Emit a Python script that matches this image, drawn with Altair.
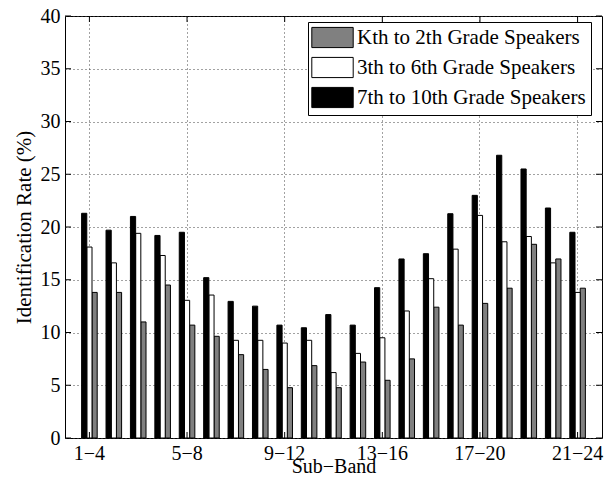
import altair as alt
import pandas as pd

groups = list(range(1, 22))
series_names = ["Kth to 2th Grade Speakers", "3th to 6th Grade Speakers", "7th to 10th Grade Speakers"]
series_colors = ["#808080", "#ffffff", "#000000"]
bar_order = ["7th to 10th Grade Speakers", "3th to 6th Grade Speakers", "Kth to 2th Grade Speakers"]

k2 = [13.8, 13.8, 11.0, 14.5, 10.7, 9.64, 7.9, 6.5, 4.77, 6.86, 4.77, 7.2, 5.47, 7.5, 12.4, 10.7, 12.76, 14.2, 18.36, 16.97, 14.2]
g36 = [18.1, 16.6, 19.4, 17.3, 13.05, 13.55, 9.26, 9.26, 9.0, 9.26, 6.2, 8.02, 9.5, 12.04, 15.1, 17.9, 21.1, 18.6, 19.1, 16.6, 13.8]
g710 = [21.3, 19.7, 21.0, 19.2, 19.5, 15.2, 12.95, 12.5, 10.7, 10.45, 11.7, 10.7, 14.25, 16.97, 17.47, 21.26, 23.0, 26.8, 25.5, 21.8, 19.5]

tick_groups = [1, 5, 9, 13, 17, 21]
tick_labels = ["1−4", "5−8", "9−12", "13−16", "17−20", "21−24"]
y_ticks = [0, 5, 10, 15, 20, 25, 30, 35, 40]

rows = []
for name, vals in zip(series_names, [k2, g36, g710]):
    for g, v in zip(groups, vals):
        rows.append({"g": g, "series": name, "v": v})
df = pd.DataFrame(rows)

W, H = 537, 422
FONT = "Liberation Serif"

label_expr = "{" + ",".join(f"'{g}':'{l}'" for g, l in zip(tick_groups, tick_labels)) + "}[datum.value]"

x_axis = alt.Axis(values=tick_groups, labelExpr=label_expr, title="Sub−Band", grid=True,
                  ticks=False, labelAngle=0, labelPadding=5, titlePadding=-7, titleFontSize=20)
y_axis = alt.Axis(values=y_ticks, title="Identification Rate (%)", grid=True, ticks=False,
                  labelPadding=5, titlePadding=6, titleFontSize=21)

x_scale = alt.Scale(domain=groups, paddingInner=0, paddingOuter=0.5)
y_scale = alt.Scale(domain=[0, 40], nice=False)

bars = alt.Chart(df).mark_bar(stroke="black", strokeWidth=1).encode(
    x=alt.X("g:O", scale=x_scale, axis=x_axis),
    xOffset=alt.XOffset("series:N", sort=bar_order, scale=alt.Scale(paddingOuter=0.85, paddingInner=0)),
    y=alt.Y("v:Q", scale=y_scale, axis=y_axis),
    fill=alt.Fill("series:N", scale=alt.Scale(domain=series_names, range=series_colors),
                  legend=alt.Legend(title=None, orient="none", legendX=243, legendY=6)),
)

ydf = pd.DataFrame({"v": y_ticks})
xdf = pd.DataFrame({"g": tick_groups})

yt_left = alt.Chart(ydf).mark_rule(color="black").encode(
    y=alt.Y("v:Q", scale=y_scale, axis=y_axis), x=alt.value(0), x2=alt.value(6))
yt_right = alt.Chart(ydf).mark_rule(color="black").encode(
    y=alt.Y("v:Q", scale=y_scale, axis=y_axis), x=alt.value(W - 6), x2=alt.value(W))
xt_bot = alt.Chart(xdf).mark_rule(color="black").encode(
    x=alt.X("g:O", scale=x_scale, axis=x_axis, bandPosition=0.5), y=alt.value(H - 6), y2=alt.value(H))
xt_top = alt.Chart(xdf).mark_rule(color="black").encode(
    x=alt.X("g:O", scale=x_scale, axis=x_axis, bandPosition=0.5), y=alt.value(0), y2=alt.value(6))

chart = alt.layer(bars, yt_left, yt_right, xt_bot, xt_top).properties(
    width=W, height=H,
    autosize=alt.AutoSizeParams(type="none"),
    padding={"left": 57, "top": 8, "right": 6, "bottom": 40},
    background="white",
).configure_view(
    stroke="black", strokeWidth=1
).configure_axis(
    labelFont=FONT, titleFont=FONT, labelFontSize=20,
    labelColor="black", titleColor="black", titleFontWeight="normal",
    domain=False, gridColor="#444", gridDash=[1, 3], gridWidth=1, gridOpacity=1,
).configure_legend(
    labelFont=FONT, labelFontSize=21, labelColor="black",
    fillColor="white", strokeColor="black", padding=5,
    symbolType="M-2.3,-1.12H2.3V1.12H-2.3Z", symbolSize=324, symbolStrokeColor="black",
    symbolStrokeWidth=1, symbolOffset=9, labelOffset=14, rowPadding=5, labelLimit=400,
)

chart.save("out.html", embed_options={"renderer": "svg", "actions": False})
